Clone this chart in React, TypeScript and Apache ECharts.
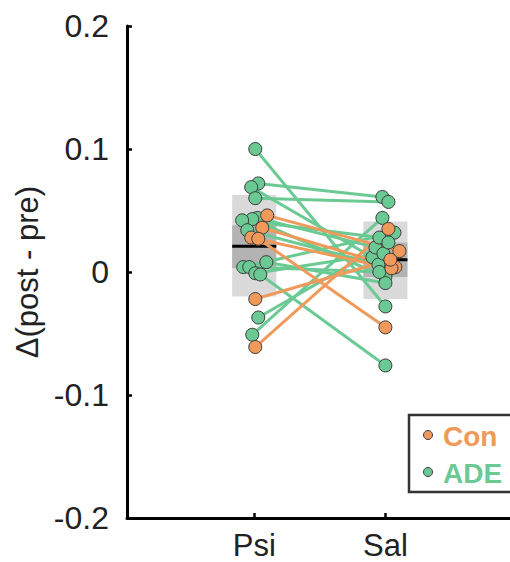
import React, { useEffect, useRef } from "react";
import * as echarts from "echarts";

const categories = ["Psi", "Sal"];
const groupNames = ["Con", "ADE"];
const yTicks = [-0.2, -0.1, 0, 0.1, 0.2];

// per-subject data
const subjGroup = [
  "ADE", "ADE", "ADE", "ADE", "ADE", "ADE", "ADE", "ADE", "ADE", "ADE", "ADE", "ADE", "ADE", "ADE", "ADE",
  "Con", "Con", "Con", "Con", "Con", "Con",
];
const psiDelta = [
  0.100, 0.072, 0.069, 0.060, 0.044, 0.043, 0.042, 0.034, 0.008, 0.004, 0.004, -0.001, -0.002, -0.037, -0.051,
  0.046, 0.036, 0.028, 0.027, -0.022, -0.061,
];
const salDelta = [
  -0.028, 0.061, 0.012, 0.057, 0.020, -0.004, 0.028, 0.006, -0.009, 0.032, 0.000, 0.015, -0.076, 0.024, 0.044,
  0.017, 0.004, 0.003, -0.045, 0.010, 0.035,
];
const psiJitter = [
  0.008, 0.031, -0.023, 0.008, 0.023, -0.015, -0.092, -0.053, 0.092, -0.084, -0.038, 0.008, 0.046, 0.031, -0.015,
  0.099, 0.061, -0.023, 0.031, 0.008, 0.008,
];
const salJitter = [
  0.0, -0.023, -0.099, 0.023, -0.076, 0.0, -0.046, -0.053, 0.0, 0.069, -0.046, -0.015, 0.0, 0.023, -0.023,
  0.107, 0.076, 0.046, 0.0, 0.038, 0.023,
];

// summary boxes: [outerLow, outerHigh, innerLow, innerHigh, median]
const psiSummary = [-0.020, 0.0626, 0.003, 0.038, 0.021];
const salSummary = [-0.022, 0.041, -0.004, 0.024, 0.010];

const COLORS: Record<string, string> = { Con: "#EF9A5B", ADE: "#6BCA94" };
const FONT = "'Liberation Sans', Arial, sans-serif";

export default function App() {
  const ref = useRef<HTMLDivElement>(null);
  useEffect(() => {
    document.body.style.margin = "0";
    document.body.style.overflow = "hidden";
    document.documentElement.style.overflow = "hidden";
    if (!ref.current) return;
    const chart = echarts.init(ref.current, null, { renderer: "svg" });

    const summaries = [psiSummary, salSummary];
    const boxData = summaries.map((s, i) => [i + 1, ...s]);
    const halfW = 0.168;

    const lineSeries: any[] = [];
    ["ADE", "Con"].forEach((g) => {
      subjGroup.forEach((sg, i) => {
        if (sg !== g) return;
        lineSeries.push({
          type: "line",
          data: [
            [1 + psiJitter[i], psiDelta[i]],
            [2 + salJitter[i], salDelta[i]],
          ],
          symbol: "none",
          lineStyle: { color: COLORS[g], width: 3 },
          z: 3,
          silent: true,
        });
      });
    });

    const scatterSeries = ["ADE", "Con"].map((g) => {
      const pts: number[][] = [];
      subjGroup.forEach((sg, i) => {
        if (sg !== g) return;
        pts.push([1 + psiJitter[i], psiDelta[i]]);
        pts.push([2 + salJitter[i], salDelta[i]]);
      });
      return {
        name: g,
        type: "scatter",
        data: pts,
        symbolSize: 13,
        itemStyle: { color: COLORS[g], borderColor: "#3a3a3a", borderWidth: 1, opacity: 1 },
        z: 5,
      };
    });

    const legendItems: any[] = [
      {
        type: "rect",
        shape: { x: 409, y: 415, width: 130, height: 77 },
        style: { fill: "#fff", stroke: "#333", lineWidth: 2.5 },
        z: 10,
      },
    ];
    groupNames.forEach((n, i) => {
      const cy = 435 + i * 37;
      legendItems.push({
        type: "circle",
        shape: { cx: 428, cy, r: 4.5 },
        style: { fill: COLORS[n], stroke: "#3a3a3a", lineWidth: 1 },
        z: 11,
      });
      legendItems.push({
        type: "text",
        x: 443,
        y: cy + 1,
        style: {
          text: n,
          fill: COLORS[n],
          font: `bold 28px ${FONT}`,
          textVerticalAlign: "middle",
          verticalAlign: "middle",
        },
        z: 11,
      });
    });

    const option: any = {
      animation: false,
      graphic: legendItems,
      grid: { left: 127, right: 0, top: 26, bottom: 44, containLabel: false },
      xAxis: {
        type: "value",
        min: 0.03,
        max: 2.95,
        splitLine: { show: false },
        axisLine: { onZero: false, lineStyle: { color: "#000", width: 3 } },
        axisTick: { customValues: [1, 2], inside: true, length: 5, lineStyle: { color: "#000", width: 2.5 } },
        axisLabel: {
          customValues: [1, 2],
          formatter: (v: number) => categories[Math.round(v) - 1] ?? "",
          fontSize: 31,
          fontFamily: FONT,
          color: "#222",
          margin: 12,
        },
      },
      yAxis: {
        type: "value",
        min: yTicks[0],
        max: yTicks[yTicks.length - 1],
        interval: 0.1,
        splitLine: { show: false },
        axisLine: { show: true, onZero: false, lineStyle: { color: "#000", width: 3 } },
        axisTick: { show: true, inside: true, length: 5, lineStyle: { color: "#000", width: 2.5 } },
        axisLabel: {
          fontSize: 32,
          fontFamily: FONT,
          color: "#222",
          margin: 18,
          formatter: (v: number) => {
            const r = Math.round(v * 10) / 10;
            return r === 0 ? "0" : String(r);
          },
        },
        name: "Δ(post - pre)",
        nameLocation: "middle",
        nameRotate: 90,
        nameGap: 74,
        nameTextStyle: { fontSize: 31, fontFamily: FONT, color: "#222" },
      },
      series: [
        {
          type: "custom",
          z: 1,
          silent: true,
          data: boxData,
          renderItem: (params: any, api: any) => {
            const c = api.value(0);
            const l = api.coord([c - halfW, api.value(2)]);
            const r = api.coord([c + halfW, api.value(1)]);
            const il = api.coord([c - halfW, api.value(4)]);
            const ir = api.coord([c + halfW, api.value(3)]);
            const ml = api.coord([c - halfW, api.value(5)]);
            const mr = api.coord([c + halfW, api.value(5)]);
            return {
              type: "group",
              children: [
                {
                  type: "rect",
                  shape: { x: l[0], y: l[1], width: r[0] - l[0], height: r[1] - l[1] },
                  style: { fill: "#dadada" },
                },
                {
                  type: "rect",
                  shape: { x: il[0], y: il[1], width: ir[0] - il[0], height: ir[1] - il[1] },
                  style: { fill: "#b3b3b3" },
                },
                {
                  type: "line",
                  shape: { x1: ml[0], y1: ml[1], x2: mr[0], y2: mr[1] },
                  style: { stroke: "#000", lineWidth: 3 },
                },
              ],
            };
          },
        },
        ...lineSeries,
        ...scatterSeries,
      ],
    };
    chart.setOption(option);
    return () => chart.dispose();
  }, []);
  return <div ref={ref} style={{ width: 510, height: 562, overflow: "hidden" }} />;
}
